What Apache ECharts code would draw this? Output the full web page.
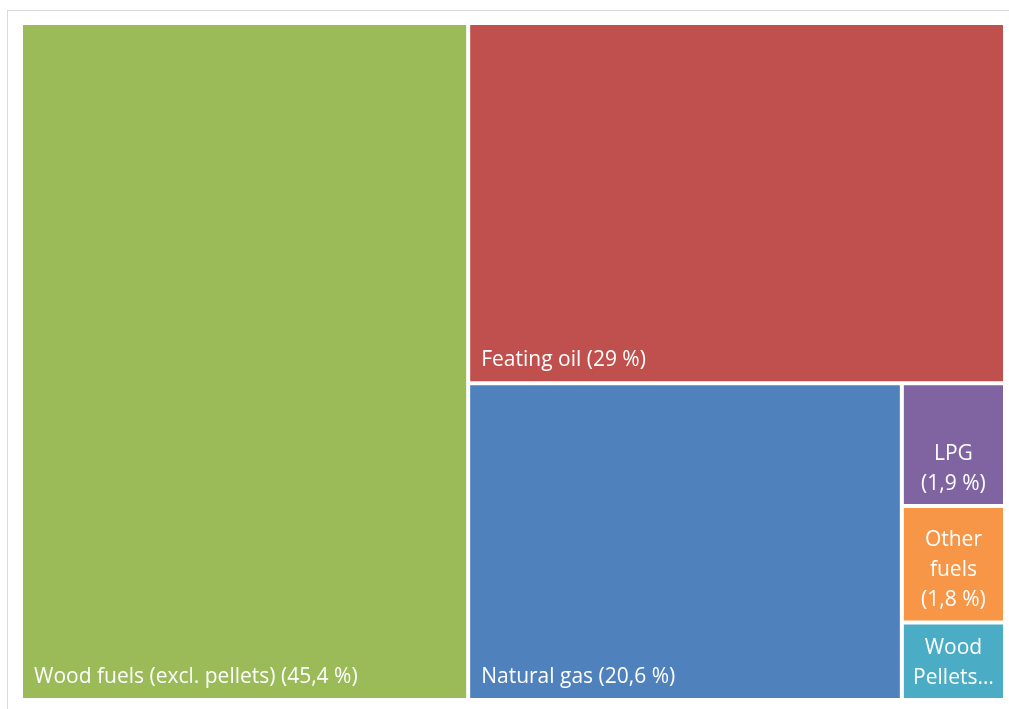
<!DOCTYPE html>
<html>
<head>
<meta charset="utf-8">
<script src="https://cdn.jsdelivr.net/npm/echarts@6/dist/echarts.min.js"></script>
<style>
  html, body { margin: 0; padding: 0; background: #fff; }
  #frame { position: absolute; left: 7px; top: 10px; width: 1020px; height: 720px; border: 1px solid #d9d9d9; }
  #chart { position: absolute; left: 0; top: 0; width: 1009px; height: 709px; }
</style>
</head>
<body>
<div id="frame"></div>
<div id="chart"></div>
<script>
// Fuel shares (%)
const fuelNames = ['Wood fuels (excl. pellets)', 'Feating oil', 'Natural gas', 'LPG', 'Other fuels', 'Wood Pellets'];
const fuelShares = [45.4, 29, 20.6, 1.9, 1.8, 1.2];
const fuelColors = ['#9BBB59', '#C0504D', '#4F81BD', '#8064A2', '#F79646', '#4BACC6'];
// Wrapped text used on the narrow tiles (null = single line from name and share)
const wrappedLabels = [null, null, null, 'LPG\n(1,9 %)', 'Other\nfuels\n(1,8 %)', 'Wood\nPellets…'];

const pct = v => '(' + String(v).replace('.', ',') + ' %)';

const data = fuelNames.map((name, i) => {
  const narrow = wrappedLabels[i] !== null;
  return {
    name: name,
    value: fuelShares[i],
    itemStyle: { color: fuelColors[i] },
    label: narrow
      ? { position: 'insideBottom', align: 'center', formatter: wrappedLabels[i], distance: 0, lineHeight: 30 }
      : { position: 'insideBottomLeft', formatter: name + ' ' + pct(fuelShares[i]), distance: 6, lineHeight: 20 }
  };
});

const chart = echarts.init(document.getElementById('chart'), null, { renderer: 'canvas' });
chart.setOption({
  animation: false,
  series: [{
    type: 'treemap',
    left: 23, top: 25, right: 6, bottom: 11,
    roam: false,
    nodeClick: false,
    squareRatio: 1,
    breadcrumb: { show: false },
    label: {
      show: true,
      color: '#ffffff',
      fontFamily: '"Open Sans", "Noto Sans", sans-serif',
      fontSize: 21
    },
    itemStyle: { borderWidth: 0, gapWidth: 4, borderColor: '#ffffff' },
    data: data
  }]
});
</script>
</body>
</html>
